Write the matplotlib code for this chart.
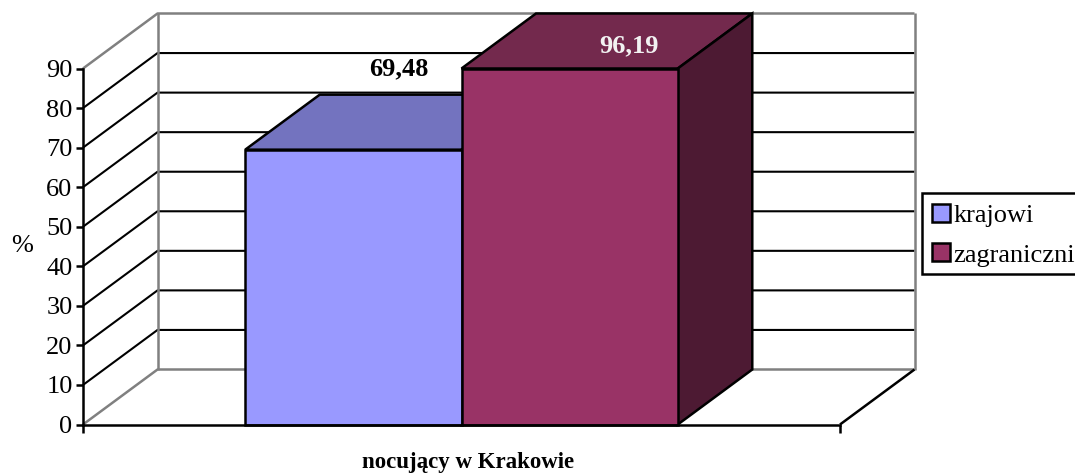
import matplotlib
matplotlib.use('Agg')
import matplotlib.pyplot as plt
from matplotlib.patches import Patch, Polygon, Rectangle

plt.rcParams['font.family'] = ['Liberation Serif', 'DejaVu Serif']

series = ['krajowi', 'zagraniczni']
values = [69.48, 96.19]
value_labels = ['69,48', '96,19']
y_ticks = [0, 10, 20, 30, 40, 50, 60, 70, 80, 90]
category = 'nocujący w Krakowie'

W, H = 1075, 473
front_colors = ['#9999FF', '#993366']
top_colors = ['#7373BF', '#73294D']
side_colors = ['#5C5C99', '#4D1A33']
label_colors = ['black', '#F2F2F2']
label_offsets = [(33, 58.5), (43, 16)]   # points, from top of the bar

fig = plt.figure(figsize=(W / 100, H / 100), dpi=100)
ax = fig.add_axes([83 / W, 1 - 424.5 / H, 757 / W, 356 / H])
ax.set_xlim(0, 1)
ax.set_ylim(0, 90)
ax.patch.set_visible(False)

# 3d look: everything at the back is shifted by this much
depth_x = 74.5 / 757
depth_y = 55 / 356 * 90
lw = 1.5
edge_lw = 1.8


def line(xs, ys, color='black', width=lw, z=1):
    ax.plot(xs, ys, color=color, lw=width, zorder=z, clip_on=False, solid_capstyle='butt')


# walls and gridlines
for t in y_ticks:
    c = '#808080' if t in (y_ticks[0], y_ticks[-1]) else 'black'
    line([0, depth_x, 1 + depth_x], [t, t + depth_y, t + depth_y], color=c, width=edge_lw if c != 'black' else lw)
for x in (depth_x, 1 + depth_x):
    line([x, x], [depth_y, y_ticks[-1] + depth_y], color='#808080', width=edge_lw)
line([1, 1 + depth_x], [0, depth_y], width=edge_lw)

# bars, excel gap width 75
bar_w = 1 / 3.5
x0 = 0.75 * bar_w
for i, v in enumerate(values):
    top = min(v, y_ticks[-1])   # axis stops at 90
    l = x0 + i * bar_w
    r = l + bar_w
    z = 3 + i
    ax.add_patch(Polygon([(l, top), (r, top), (r + depth_x, top + depth_y), (l + depth_x, top + depth_y)],
                         closed=True, fc=top_colors[i], ec='black', lw=edge_lw, zorder=z, clip_on=False))
    ax.add_patch(Polygon([(r, 0), (r + depth_x, depth_y), (r + depth_x, top + depth_y), (r, top)],
                         closed=True, fc=side_colors[i], ec='black', lw=edge_lw, zorder=z, clip_on=False))
    ax.add_patch(Polygon([(l, 0), (r, 0), (r, top), (l, top)],
                         closed=True, fc=front_colors[i], ec='black', lw=edge_lw, zorder=z, clip_on=False))
    ax.annotate(value_labels[i], (l + bar_w / 2, top), xytext=label_offsets[i], textcoords='offset points',
                ha='center', va='center', fontsize=19, fontweight='bold', color=label_colors[i], zorder=10)

# axes
for s in ('top', 'right'):
    ax.spines[s].set_visible(False)
for s in ('left', 'bottom'):
    ax.spines[s].set_linewidth(edge_lw)
    ax.spines[s].set_zorder(8)
ax.set_yticks(y_ticks)
ax.set_xticks([0, 1])
ax.set_xticklabels([])
ax.tick_params(axis='y', length=5, width=edge_lw, pad=2.5, labelsize=19)
ax.tick_params(axis='x', length=5.5, width=edge_lw)
ax.set_xlabel(category, fontsize=16.5, fontweight='bold')
ax.xaxis.set_label_coords((468 - 83) / 757, -(462.5 - 424.5) / 356, )
ax.xaxis.label.set_va('center')
ax.set_ylabel('%', rotation=0, fontsize=19, ha='center', va='center')
ax.yaxis.set_label_coords((22 - 83) / 757, (424.5 - 246) / 356)

# legend frame by hand, the legend's own one comes out too tall; runs off the right edge like the original
fig.add_artist(Rectangle((922 / W, 1 - 273.5 / H), 200 / W, 81 / H, transform=fig.transFigure,
                         fc='white', ec='black', lw=edge_lw, zorder=-1))
handles = [Patch(fc=c, ec='black', lw=edge_lw) for c in front_colors]
leg = ax.legend(handles, series, loc='upper left', bbox_to_anchor=(921 / W, 1 - 192.5 / H),
                bbox_transform=fig.transFigure, borderaxespad=0, fontsize=19, frameon=False,
                borderpad=0.42, labelspacing=0.62,
                handlelength=0.68, handleheight=0.68, handletextpad=0.14)
leg.set_zorder(12)

fig.savefig('out.png', dpi=100)
